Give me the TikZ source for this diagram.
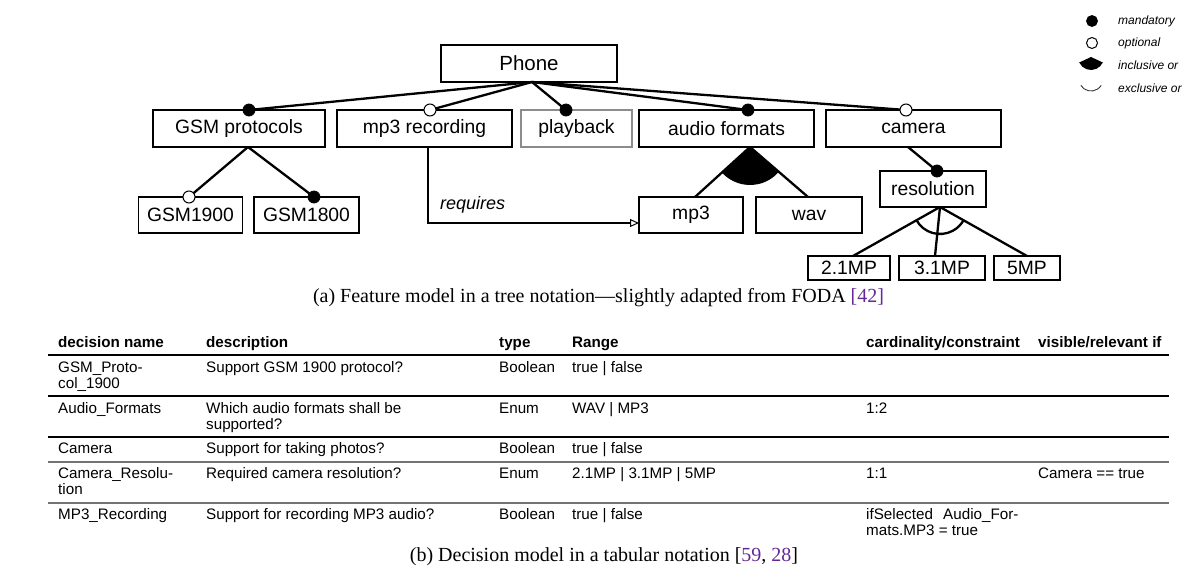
\documentclass[tikz,border=0pt]{standalone}
\usepackage{fontspec}
\setmainfont{Liberation Serif}
\setsansfont{Liberation Sans}
\usetikzlibrary{arrows.meta,calc}
\definecolor{citec}{RGB}{100,40,150}
\begin{document}
\begin{tikzpicture}[x=1pt,y=1pt,
  feat/.style={draw=black, line width=1.2pt, inner sep=0pt, font=\sffamily\fontsize{19.3}{22}\selectfont},
  conn/.style={line width=2.3pt},
  mand/.style={circle, fill=black, draw=black, line width=0.8pt, minimum size=12pt, inner sep=0pt},
  opt/.style={circle, fill=white, draw=black, line width=1pt, minimum size=12pt, inner sep=0pt},
  tab/.style={anchor=base west, inner sep=0pt, font=\sffamily\fontsize{15.2}{16}\selectfont},
  tabh/.style={tab, font=\sffamily\bfseries\fontsize{15.2}{16}\selectfont},
  leg/.style={anchor=west, inner sep=0pt, font=\sffamily\itshape\fontsize{12}{13}\selectfont},
  captext/.style={inner sep=0pt, font=\fontsize{20}{24}\selectfont},
  tabrule/.style={line width=1.3pt},
]
\useasboundingbox (0,0) rectangle (1191,-586);

% ---------- feature boxes ----------
\node[feat, font=\sffamily\fontsize{20.5}{22}\selectfont, minimum width=176pt, minimum height=37pt] (phone) at (529,-63.5) {Phone};
\node[feat, minimum width=172pt, minimum height=37pt] (gsm) at (239,-128.5) {GSM protocols};
\node[feat, minimum width=175pt, minimum height=37pt] (mp3rec) at (424.5,-128.5) {mp3 recording};
\node[feat, draw=black!45, minimum width=111pt, minimum height=37pt] (playback) at (576.5,-128.5) {playback};
\node[feat, minimum width=175pt, minimum height=37pt] (audio) at (726.5,-128.5) {audio formats};
\node[feat, minimum width=175pt, minimum height=37pt] (camera) at (913.5,-128.5) {camera};
\node[feat, minimum width=104pt, minimum height=36pt] (g1900) at (190.5,-215) {GSM1900};
\node[feat, minimum width=105pt, minimum height=36pt] (g1800) at (306.5,-215) {GSM1800};
\node[feat, minimum width=104pt, minimum height=36pt] (mp3) at (691,-215) {mp3};
\node[feat, minimum width=106pt, minimum height=36pt] (wav) at (809,-215) {wav};
\node[feat, minimum width=106pt, minimum height=36pt] (resol) at (933,-189) {resolution};
\node[feat, minimum width=82pt, minimum height=24pt] (mpa) at (849,-268) {2.1MP};
\node[feat, minimum width=86pt, minimum height=24pt] (mpb) at (942,-268) {3.1MP};
\node[feat, minimum width=66pt, minimum height=24pt] (mpc) at (1027,-268) {5MP};

% ---------- connection points ----------
\coordinate (papex) at (532,-82);
\coordinate (cgsm) at (249,-110);
\coordinate (cmp3rec) at (430,-110);
\coordinate (cplay) at (566,-110);
\coordinate (caudio) at (748,-110);
\coordinate (ccam) at (906,-110);
\coordinate (gsmapex) at (248,-147);
\coordinate (c1900) at (189,-197);
\coordinate (c1800) at (314,-197);
\coordinate (audapex) at (750,-147);
\coordinate (mp3top) at (695,-197);
\coordinate (wavtop) at (808,-197);
\coordinate (camb) at (908,-147);
\coordinate (cres) at (937,-171);
\coordinate (resapex) at (940,-207);
\coordinate (mpatop) at (853,-256);
\coordinate (mpbtop) at (935,-256);
\coordinate (mpctop) at (1027,-256);
\coordinate (rq1) at (428,-147);
\coordinate (rq2) at (639,-223);

% ---------- connectors ----------
\draw[conn] (papex) -- (cgsm);
\draw[conn] (papex) -- (cmp3rec);
\draw[conn] (papex) -- (cplay);
\draw[conn] (papex) -- (caudio);
\draw[conn] (papex) -- (ccam);
\draw[conn] (gsmapex) -- (c1900);
\draw[conn] (gsmapex) -- (c1800);
\draw[conn] (audapex) -- (mp3top);
\draw[conn] (audapex) -- (wavtop);
\fill (audapex) -- ++(222.3:38) arc[start angle=222.3, end angle=319.2, radius=38] -- cycle;
\draw[conn] (camb) -- (cres);
\draw[conn] (resapex) -- (mpatop);
\draw[conn] (resapex) -- (mpbtop);
\draw[conn] (resapex) -- (mpctop);
\draw[conn] ($(resapex)+(208.9:27)$) arc[start angle=208.9, end angle=331.1, radius=27];
\draw[conn, -{Triangle[open, length=9pt, width=8pt, line width=1pt]}] (rq1) |- (rq2);
\node[anchor=west, inner sep=0pt, font=\sffamily\itshape\fontsize{18}{20}\selectfont] (req) at (440,-205) {requires};

% ---------- dots ----------
\node[mand] (dgsm) at (cgsm) {};
\node[opt] (dmp3rec) at (cmp3rec) {};
\node[mand] (dplay) at (cplay) {};
\node[mand] (daudio) at (caudio) {};
\node[opt] (dcam) at (ccam) {};
\node[opt] (d1900) at (c1900) {};
\node[mand] (d1800) at (c1800) {};
\node[mand] (dres) at (cres) {};

% ---------- legend ----------
\node[mand, minimum size=11pt] (lmand) at (1092,-21) {};
\node[opt, minimum size=11pt] (lopt) at (1092,-43) {};
\coordinate (linc) at (1091,-57);
\fill (linc) -- ++(205:13) arc[start angle=205, end angle=335, radius=13] -- cycle;
\coordinate (lexc) at (1091,-79);
\draw[line width=0.9pt, black!80] ($(lexc)+(212:12)$) arc[start angle=212, end angle=328, radius=12];
\node[leg] (tmand) at (1118,-21) {mandatory};
\node[leg] (topt) at (1118,-43) {optional};
\node[leg] (tinc) at (1118,-65) {inclusive or};
\node[leg] (texc) at (1118,-88) {exclusive or};

% ---------- caption (a) ----------
\node[captext] (capa) at (598.5,-298) {(a) Feature model in a tree notation---slightly adapted from FODA {\color{citec}[42]}};

% ---------- table ----------
\node[tabh] (h1) at (58,-347.5) {decision name};
\node[tabh] (h2) at (206,-347.5) {description};
\node[tabh] (h3) at (499,-347.5) {type};
\node[tabh] (h4) at (572,-347.5) {Range};
\node[tabh] (h5) at (866,-347.5) {cardinality/constraint};
\node[tabh] (h6) at (1038,-347.5) {visible/relevant if};
\draw[tabrule] (48,-355) -- (1169,-355);

\node[tab] (r1a) at (58,-372) {GSM\_Proto-};
\node[tab] (r1b) at (58,-388) {col\_1900};
\node[tab] (r1c) at (206,-372) {Support GSM 1900 protocol?};
\node[tab] (r1d) at (499,-372) {Boolean};
\node[tab] (r1e) at (572,-372) {true | false};
\draw[tabrule] (48,-396) -- (1169,-396);

\node[tab] (r2a) at (58,-413) {Audio\_Formats};
\node[tab] (r2c) at (206,-413) {Which audio formats shall be};
\node[tab] (r2c2) at (206,-429) {supported?};
\node[tab] (r2d) at (499,-413) {Enum};
\node[tab] (r2e) at (572,-413) {WAV | MP3};
\node[tab] (r2f) at (866,-413) {1:2};
\draw[tabrule] (48,-437) -- (1169,-437);

\node[tab] (r3a) at (58,-453.5) {Camera};
\node[tab] (r3c) at (206,-453.5) {Support for taking photos?};
\node[tab] (r3d) at (499,-453.5) {Boolean};
\node[tab] (r3e) at (572,-453.5) {true | false};
\draw[tabrule, black!55] (48,-462) -- (1169,-462);

\node[tab] (r4a) at (58,-478.5) {Camera\_Resolu-};
\node[tab] (r4b) at (58,-494.5) {tion};
\node[tab] (r4c) at (206,-478.5) {Required camera resolution?};
\node[tab] (r4d) at (499,-478.5) {Enum};
\node[tab] (r4e) at (572,-478.5) {2.1MP | 3.1MP | 5MP};
\node[tab] (r4f) at (866,-478.5) {1:1};
\node[tab] (r4g) at (1038,-478.5) {Camera == true};
\draw[tabrule, black!55] (48,-503) -- (1169,-503);

\node[tab] (r5a) at (58,-519.5) {MP3\_Recording};
\node[tab] (r5c) at (206,-519.5) {Support for recording MP3 audio?};
\node[tab] (r5d) at (499,-519.5) {Boolean};
\node[tab] (r5e) at (572,-519.5) {true | false};
\node[tab] (r5f) at (866,-519.5) {ifSelected};
\node[tab] (r5f2) at (943,-519.5) {Audio\_For-};
\node[tab] (r5f3) at (866,-535.5) {mats.MP3 = true};

% ---------- caption (b) ----------
\node[captext] (capb) at (604,-557) {(b) Decision model in a tabular notation [{\color{citec}59}, {\color{citec}28}]};
\end{tikzpicture}
\end{document}
